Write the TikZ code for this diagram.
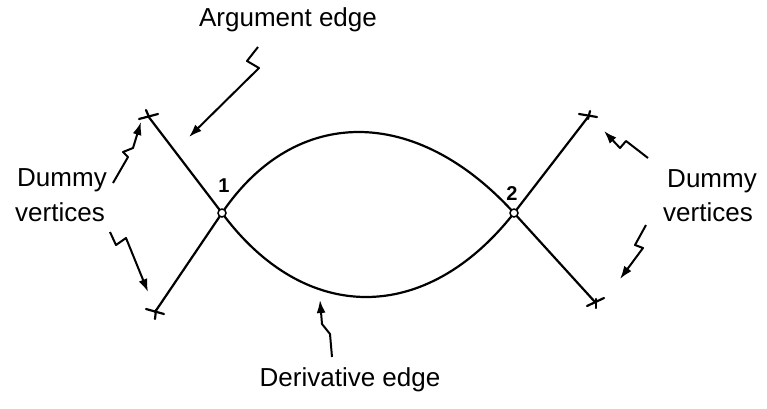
\documentclass[tikz,border=0pt]{standalone}
\usepackage{fontspec}
\setmainfont{Liberation Sans}
\usetikzlibrary{arrows.meta}
\tikzset{
  edgeline/.style={line width=2.2pt, line cap=round, line join=round},
  squig/.style={line width=2pt, line join=round, -{Latex[length=13pt,width=9pt]}},
  lbl/.style={font=\fontsize{26}{29}\selectfont, inner sep=0pt},
  num/.style={font=\bfseries\fontsize{20}{22}\selectfont, inner sep=0pt},
  vtx/.style={circle, draw, line width=1.5pt, fill=white, minimum size=8pt, inner sep=0pt},
  starstroke/.style={line width=2.2pt, line cap=round}
}
\begin{document}
\begin{tikzpicture}[x=1pt,y=-1pt]
\useasboundingbox (0,0) rectangle (767,408);
% key points
\coordinate (stl) at (148,116);
\coordinate (sbl) at (155,312);
\coordinate (str) at (588,117);
\coordinate (sbr) at (595,302);
\coordinate (p1) at (222,213);
\coordinate (p2) at (514,213);
% edges
\draw[edgeline] (stl) -- (p1) .. controls (305,325) and (426,325) .. (p2) -- (str);
\draw[edgeline] (sbl) -- (p1) .. controls (295,105) and (416,105) .. (p2) -- (sbr);
% dummy vertex marks
\draw[starstroke] (stl) ++(-9,3) -- ++(19,-5);
\draw[starstroke] (stl) ++(-2,-6) -- ++(3,7);
\draw[starstroke] (sbl) ++(-9,-3) -- ++(18,5);
\draw[starstroke] (sbl) ++(1,-2) -- ++(-1,9);
\draw[starstroke] (str) ++(-9,-3) -- ++(18,3);
\draw[starstroke] (str) ++(2,-6) -- ++(-2,8);
\draw[starstroke] (sbr) ++(-8,4) -- ++(17,-8);
\draw[starstroke] (sbr) ++(1,-3) -- ++(0,9);
% vertices
\node[vtx] (v1) at (p1) {};
\node[vtx] (v2) at (p2) {};
\node[num] (n1) at (224,186) {1};
\node[num] (n2) at (512,194) {2};
% labels
\node[lbl] (arg) at (288,20) {Argument edge};
\node[lbl] (dl1) at (62,180) {Dummy};
\node[lbl] (dl2) at (60,212) {vertices};
\node[lbl] (dr1) at (712,181) {Dummy};
\node[lbl] (dr2) at (708,212) {vertices};
\node[lbl] (der) at (350,380) {Derivative edge};
% squiggle arrows
\coordinate (aa) at (258,47);
\coordinate (ab) at (189,137);
\draw[squig] (aa) -- (247,61) -- (259,68) -- (ab);
\coordinate (la) at (113,183);
\coordinate (lb) at (141,122);
\draw[squig] (la) -- (128,157) -- (123,152) -- (133,148) -- (lb);
\coordinate (lc) at (110,232);
\coordinate (ld) at (148,292);
\draw[squig] (lc) -- (116,245) -- (126,238) -- (ld);
\coordinate (ra) at (648,158);
\coordinate (rb) at (604,131);
\draw[squig] (ra) -- (626,141) -- (620,148) -- (rb);
\coordinate (rc) at (646,225);
\coordinate (rd) at (620,279);
\draw[squig] (rc) -- (635,245) -- (643,248) -- (rd);
\coordinate (da) at (332,357);
\coordinate (db) at (320,300);
\draw[squig] (da) -- (330,334) -- (322,324) -- (db);
\end{tikzpicture}
\end{document}
